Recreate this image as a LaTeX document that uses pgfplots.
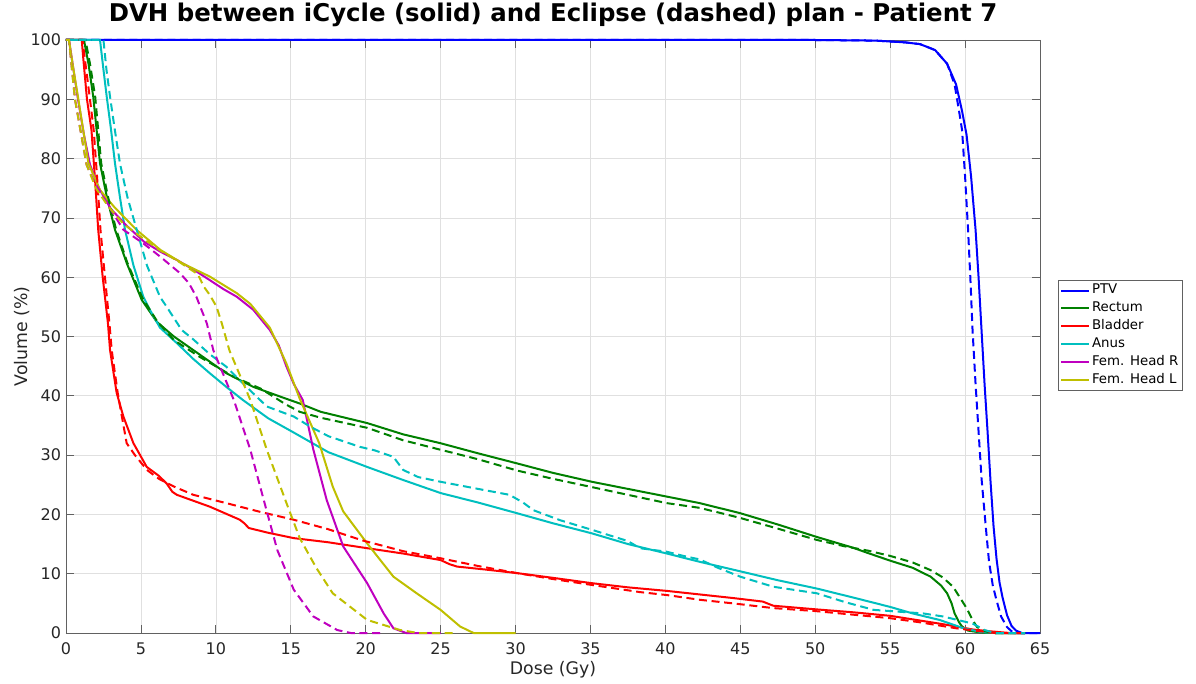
\documentclass[border=0pt]{standalone}
\usepackage{fontspec}
\setmainfont{DejaVu Sans}
\usepackage{pgfplots}
\pgfplotsset{compat=1.18}

% MATLAB-style line colours
\definecolor{cPTV}{rgb}{0,0,1}
\definecolor{cRec}{rgb}{0,0.5,0}
\definecolor{cBla}{rgb}{1,0,0}
\definecolor{cAnu}{rgb}{0,0.75,0.75}
\definecolor{cFHR}{rgb}{0.75,0,0.75}
\definecolor{cFHL}{rgb}{0.75,0.75,0}
\definecolor{axgray}{rgb}{0.38,0.38,0.38}

\begin{document}
\begin{tikzpicture}
\begin{axis}[
  scale only axis,
  width=730.5pt, height=444.75pt,
  xmin=0, xmax=65, ymin=0, ymax=100,
  xtick={0,5,...,65}, ytick={0,10,...,100},
  grid=major,
  major grid style={draw=black!12, line width=0.5pt},
  tick align=inside,
  major tick length=6pt,
  tick style={draw=axgray, line width=0.6pt},
  axis line style={draw=axgray, line width=0.6pt},
  clip=false,
  /pgf/number format/assume math mode=true,
  ticklabel style={font=\fontsize{12}{14}\selectfont, text=black!85},
  xticklabel style={anchor=base, inner sep=0pt, yshift=-15.75pt},
  yticklabel style={anchor=east, inner sep=0pt, xshift=-3.5pt},
  xlabel={Dose (Gy)},
  ylabel={Volume (\%)},
  label style={font=\fontsize{13}{15}\selectfont, text=black!85},
  xlabel style={at={(axis description cs:0.5,-0.0708)}, anchor=base},
  ylabel style={at={(axis description cs:-0.040,0.5)}, anchor=base},
  title={DVH between iCycle (solid) and Eclipse (dashed) plan - Patient 7},
  title style={font=\fontsize{18.3}{20}\selectfont\bfseries,
               at={(axis description cs:0.5,1.0175)}, anchor=base},
  every axis plot/.append style={line width=1.5pt},
  legend image code/.code={\draw[#1] (0pt,0pt) -- (21pt,0pt);},
  legend cell align=left,
  legend style={
    at={(1.0185,0.5953)}, anchor=north west,
    draw=axgray, line width=0.6pt, fill=white,
    font=\fontsize{10}{12}\selectfont,
    inner xsep=1.5pt, inner ysep=1.5pt,
    row sep=1.1pt,
    nodes={inner sep=1.2pt, text height=7.5pt, text depth=2.4pt},
  },
  dashedcurve/.style={dash pattern=on 6pt off 3.5pt, forget plot},
]
\coordinate (bl) at (rel axis cs:0,0);

% ---------- iCycle plan (solid) ----------
\addplot[cPTV] coordinates {
 (0,100) (50,100) (54,99.9) (56,99.6) (57,99.3) (58,98.3) (58.8,96)
 (59.4,92.5) (59.8,88) (60.1,84) (60.4,77) (60.7,68) (60.9,60) (61.1,51)
 (61.3,42) (61.5,34) (61.7,25.5) (61.9,18) (62.1,12.5) (62.3,8.5) (62.5,6)
 (62.8,3) (63.1,1.2) (63.4,0.4) (63.8,0) (65,0)};
\addlegendentry{PTV}

\addplot[cRec] coordinates {
 (0,100) (1.2,100) (1.5,96) (1.82,90.4) (2.27,79.2) (2.72,73.6) (3.27,68)
 (4.05,62.4) (5.05,56.2) (6.05,52.5) (7.2,50) (8.5,47.7) (10.7,43.8)
 (12.5,41.5) (14.7,39.5) (15.6,38.7) (17,37.3) (20.1,35.4) (22.5,33.5)
 (25,32) (27.5,30.3) (30.1,28.6) (32.5,27) (35.1,25.5) (37.5,24.3)
 (40.1,23) (42.3,21.9) (45,20.2) (47.5,18.3) (50.1,16.2) (52.5,14.4)
 (53.5,13.5) (55,12.2) (56.5,11) (57.7,9.5) (58.4,8) (58.8,6.7) (59.1,5)
 (59.3,3.3) (59.6,1.8) (59.8,1.1) (60.2,0.4) (61,0.1) (62,0) (64,0)};
\addlegendentry{Rectum}

\addplot[cBla] coordinates {
 (0,100) (1.05,100) (1.15,97) (1.4,90) (1.7,84.8) (1.95,76) (2.15,68)
 (2.45,60) (2.8,52.2) (2.94,47.7) (3.38,40.5) (3.83,36.5) (4.5,32)
 (5.39,28) (6.2,26.5) (6.72,25.2) (7.1,23.8) (7.4,23.3) (8.5,22.3)
 (9.6,21.3) (10.6,20.2) (11.6,19.1) (11.9,18.5) (12.2,17.7) (13.5,16.9)
 (15.2,16) (17.5,15.3) (20.1,14.3) (22.5,13.4) (25,12.3) (25.6,11.6)
 (26.1,11.2) (28,10.7) (30.1,10.1) (32.5,9.3) (35.1,8.4) (37.5,7.7)
 (40.1,7.1) (42.3,6.5) (44.5,5.9) (46.5,5.3) (47.2,4.6) (50,4.0)
 (52.5,3.5) (55,2.9) (57,2.1) (58.5,1.5) (59.4,1.1) (60.5,0.6) (61.6,0.3)
 (63,0) (64,0)};
\addlegendentry{Bladder}

\addplot[cAnu] coordinates {
 (0,100) (2.27,100) (2.5,95) (2.72,90.4) (3.0,85) (3.27,79.2) (3.6,73.5)
 (3.94,68) (4.5,62) (5.16,56.7) (5.6,54.5) (6.27,51.5) (7.39,48.9)
 (8.5,46.2) (9.6,43.8) (10.7,41.5) (11.8,39.3) (13.5,36.2) (15.2,33.8)
 (17.5,30.5) (20.1,28) (22.5,25.8) (25,23.6) (27.5,22) (30.1,20.2)
 (32.5,18.5) (35.1,16.8) (37.5,15) (40.1,13.4) (42.3,12.0) (45,10.4)
 (47.5,8.9) (50.1,7.5) (52.5,6) (55,4.4) (56.5,3.3) (58.3,2.2) (59.9,0.8)
 (61,0.2) (62,0) (64,0)};
\addlegendentry{Anus}

\addplot[cFHR] coordinates {
 (0,100) (0.2,100) (0.5,95) (0.8,90) (1.2,84) (1.6,79) (2.2,75) (3.0,71.5)
 (4.0,68.8) (5.2,66) (6.3,64.3) (7.4,62.9) (8.5,61.3) (9.6,59.5) (10.5,58)
 (11.4,56.7) (12.5,54.5) (13.6,51.1) (14.2,48.5) (14.7,45) (15.2,42)
 (15.8,39.3) (16.5,31) (17.4,22.4) (18.5,14.6) (20.1,8.4) (21.2,3.3)
 (21.85,0.8) (22.7,0) (25,0)};
\addlegendentry{Fem. Head R}

\addplot[cFHL] coordinates {
 (0,100) (0.2,100) (0.5,95) (0.8,90.4) (1.5,79.2) (2.27,74.7) (3.2,71.9)
 (4.7,68) (6.3,64.6) (7.8,62.3) (9.6,60.1) (11.4,57.3) (12.3,55.5)
 (13.6,51.5) (14.7,45.5) (15.6,39.5) (16.9,32) (17.8,24.7) (18.5,20.5)
 (20.1,15.1) (21.85,9.5) (23.4,6.7) (25,3.9) (26.3,1.1) (27.2,0) (30,0)};
\addlegendentry{Fem. Head L}

% ---------- Eclipse plan (dashed) ----------
\addplot[cPTV, dashedcurve] coordinates {
 (0,100) (50,100) (54,99.9) (56,99.6) (57,99.3) (58,98.3) (58.8,96)
 (59.3,92.5) (59.6,88) (59.8,84.8) (60.0,77) (60.2,68) (60.35,60)
 (60.5,51) (60.7,42) (60.9,34) (61.1,26) (61.4,17.4) (61.6,12)
 (61.85,8) (62.1,5.5) (62.4,2.8) (62.8,1) (63.1,0.3) (63.5,0) (65,0)};

\addplot[cRec, dashedcurve] coordinates {
 (0,100) (1.3,100) (1.6,96) (1.95,90.4) (2.35,79.2) (2.8,73.6) (3.35,68)
 (4.1,62.4) (5.1,56.5) (6.1,52.5) (7.2,49.4) (8.9,46.6) (11.2,43.2)
 (13,41.2) (14.7,38.5) (15.6,37.3) (17,36.3) (20.1,34.6) (22.5,32.5)
 (25,30.9) (27.5,29.3) (30.1,27.4) (32.5,26) (35.1,24.6) (37.5,23.3)
 (40.1,21.9) (42.3,21.1) (45,19.4) (47.5,17.6) (50.1,15.7) (52,14.6)
 (53.5,13.9) (55,13.0) (56.5,11.9) (57.7,10.6) (58.5,9.4) (59.2,7.8)
 (59.6,6.2) (60.1,4.2) (60.5,2.2) (60.8,1) (61.3,0.3) (62,0) (64,0)};

\addplot[cBla, dashedcurve] coordinates {
 (0,100) (1.1,100) (1.3,96) (1.6,90) (1.85,84.8) (2.1,76) (2.3,68)
 (2.6,60) (2.9,52.2) (3.05,47.7) (3.45,40.5) (3.8,35.5) (4.05,32)
 (4.6,30) (5.4,27.5) (6.2,26) (7.2,24.7) (8.5,23.3) (10.7,21.9)
 (13,20.4) (15.2,19.1) (17.5,17.5) (19.8,15.6) (22.5,13.8) (25,12.6)
 (27.5,11.3) (30.1,10.1) (32.5,9.1) (35.1,8.1) (38.3,6.9) (40.1,6.4)
 (42.3,5.6) (44.5,5.0) (47.2,4.2) (50,3.7) (52.5,3.1) (55,2.5) (57,1.8)
 (59.4,0.8) (61,0.3) (62,0) (64,0)};

\addplot[cAnu, dashedcurve] coordinates {
 (0,100) (2.5,100) (2.7,95) (2.94,90.4) (3.25,85) (3.6,79.2) (4.1,73.5)
 (4.72,68) (5.4,62) (6.27,56.7) (6.72,55) (7.72,51.1) (8.5,49.5)
 (9.6,47) (10.7,44.9) (11.8,42.1) (13.4,38.2) (15.2,36.5) (16.3,34.8)
 (17.5,33.2) (19.6,31.4) (20.6,30.8) (21.85,29.7) (22.5,27.5)
 (23.5,26.3) (25,25.5) (27.5,24.3) (29.6,23.3) (30.5,22) (31.2,20.7)
 (33,19) (35.1,17.4) (37.5,15.5) (38.3,14.3) (40.1,13.7) (41.2,13)
 (42.3,12.4) (43.5,11) (45,9.5) (47.2,7.8) (50.1,6.7) (52,5.2)
 (53.9,3.9) (57.2,3.3) (58.5,2.8) (60.5,1.6) (61.3,0.5) (62,0) (64,0)};

\addplot[cFHR, dashedcurve] coordinates {
 (0,100) (0.2,100) (0.6,90) (1.37,79) (1.82,76.4) (2.72,72.5) (3.83,68)
 (5.16,65.7) (6.27,63.5) (7.6,60.7) (8.2,59) (8.7,56.7) (9.4,52.2)
 (9.83,47.7) (11.2,39.3) (12.3,30.9) (13.2,22.4) (14.1,14) (15.2,7.3)
 (16.5,2.8) (18.1,0.5) (19,0) (21,0)};

\addplot[cFHL, dashedcurve] coordinates {
 (0,100) (0.2,100) (0.6,90) (1.37,79) (2,75) (2.8,72) (3.83,69)
 (5.16,66.5) (6.3,64.5) (7.6,62.5) (8.8,60.5) (9.2,58.4) (9.6,57)
 (10.05,55) (10.4,52.2) (10.9,47.7) (12.3,39.3) (13.4,30.9) (14.7,22)
 (15.6,16) (16.7,11) (17.8,6.7) (20.1,2.2) (22.3,0.5) (23.5,0) (26,0)};
\end{axis}
\pgfresetboundingbox
\path[use as bounding box] (bl) ++(-49.5pt,-37.5pt) rectangle ++(897pt,512.25pt);
\end{tikzpicture}
\end{document}
